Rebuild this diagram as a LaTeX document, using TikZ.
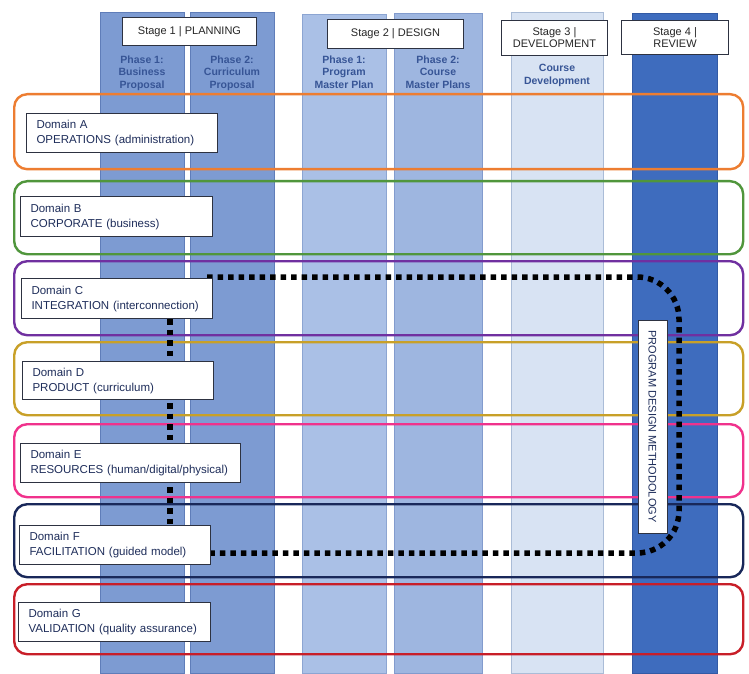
\documentclass[tikz,border=0pt]{standalone}
\usepackage{fontspec}
\setmainfont{Liberation Sans}

% stage column fills and edges
\definecolor{sOne}{RGB}{125,155,210}
\definecolor{sOneEdge}{RGB}{95,125,185}
\definecolor{sTwoA}{RGB}{170,192,230}
\definecolor{sTwoAEdge}{RGB}{140,165,210}
\definecolor{sTwoB}{RGB}{158,182,224}
\definecolor{sTwoBEdge}{RGB}{130,155,205}
\definecolor{sThree}{RGB}{216,227,243}
\definecolor{sThreeEdge}{RGB}{170,188,215}
\definecolor{sFour}{RGB}{62,108,190}
\definecolor{sFourEdge}{RGB}{50,90,165}
% domain band outlines
\definecolor{dA}{RGB}{237,125,49}
\definecolor{dB}{RGB}{80,150,60}
\definecolor{dC}{RGB}{112,48,160}
\definecolor{dD}{RGB}{200,160,40}
\definecolor{dE}{RGB}{240,50,140}
\definecolor{dF}{RGB}{25,40,90}
\definecolor{dG}{RGB}{200,30,40}
% text and box edges
\definecolor{txtNavy}{RGB}{30,45,90}
\definecolor{txtPhase}{RGB}{55,85,150}
\definecolor{boxEdge}{RGB}{45,50,65}

\pgfdeclarelayer{grid}
\pgfdeclarelayer{loop}
\pgfsetlayers{grid,loop,main}

\begin{document}
\begin{tikzpicture}[x=1pt,y=-1pt,
  stagecol/.style={rectangle, anchor=north west, inner sep=0pt,
    minimum height=661pt, line width=0.8pt},
  band/.style={rectangle, anchor=north west, inner sep=0pt, rounded corners=13pt,
    minimum width=729pt, line width=2.4pt},
  stagehead/.style={rectangle, draw=boxEdge, fill=white, line width=1pt,
    anchor=north west, inner sep=0pt, align=center,
    font=\fontsize{11}{12}\selectfont, text=black!85},
  phasetext/.style={align=center, inner sep=0pt,
    font=\bfseries\fontsize{10.5}{12.5}\selectfont, text=txtPhase},
  domainbox/.style={rectangle, draw=boxEdge, fill=white, line width=1.1pt,
    anchor=north west, align=left, inner xsep=10pt, inner ysep=0pt,
    font=\fontsize{11.5}{15}\selectfont, text=txtNavy},
  dotline/.style={line width=5.5pt, dash pattern=on 5.5pt off 5pt, black}]

\begin{pgfonlayer}{grid}
\fill[white] (0,0) rectangle (749,673);
% stage columns
\node[stagecol, fill=sOne, draw=sOneEdge, minimum width=84pt] (colA) at (100,12) {};
\node[stagecol, fill=sOne, draw=sOneEdge, minimum width=84pt] (colB) at (190,12) {};
\node[stagecol, fill=sTwoA, draw=sTwoAEdge, minimum width=84pt, minimum height=659pt] (colC) at (302,14) {};
\node[stagecol, fill=sTwoB, draw=sTwoBEdge, minimum width=88pt, minimum height=660pt] (colD) at (394,13) {};
\node[stagecol, fill=sThree, draw=sThreeEdge, minimum width=92pt] (colE) at (511,12) {};
\node[stagecol, fill=sFour, draw=sFourEdge, minimum width=85pt, minimum height=660pt] (colF) at (632,13) {};

% stage headings
\node[stagehead, minimum width=134pt, minimum height=28pt] (stOne) at (122,17) {Stage 1 | PLANNING};
\node[stagehead, minimum width=136pt, minimum height=29pt] (stTwo) at (327,19) {Stage 2 | DESIGN};
\node[stagehead, minimum width=106pt, minimum height=35pt] (stThree) at (501,20) {Stage 3 |\\DEVELOPMENT};
\node[stagehead, minimum width=107pt, minimum height=34pt] (stFour) at (621,20) {Stage 4 |\\REVIEW};

% phase captions
\node[phasetext] (phA) at (142,73) {Phase 1:\\Business\\Proposal};
\node[phasetext] (phB) at (232,73) {Phase 2:\\Curriculum\\Proposal};
\node[phasetext] (phC) at (344,72) {Phase 1:\\Program\\Master Plan};
\node[phasetext] (phD) at (438,72) {Phase 2:\\Course\\Master Plans};
\node[phasetext] (phE) at (557,75.5) {Course\\Development};

% domain bands
\node[band, draw=dA, minimum height=75pt] (bandA) at (13,93) {};
\node[band, draw=dB, minimum height=73pt] (bandB) at (13,180) {};
\node[band, draw=dC, minimum height=74pt] (bandC) at (13,260) {};
\node[band, draw=dD, minimum height=73pt] (bandD) at (13,341) {};
\node[band, draw=dE, minimum height=73pt] (bandE) at (13,423) {};
\node[band, draw=dF, minimum height=73pt] (bandF) at (13,503) {};
\node[band, draw=dG, minimum height=70pt] (bandG) at (13,583) {};
\end{pgfonlayer}

% domain labels
\node[domainbox, text width=171pt, minimum height=39pt] (domA) at (26,113) {Domain A\\OPERATIONS (administration)};
\node[domainbox, text width=172pt, minimum height=40pt] (domB) at (20,196) {Domain B\\CORPORATE (business)};
\node[domainbox, text width=171pt, minimum height=40pt] (domC) at (21,278) {Domain C\\INTEGRATION (interconnection)};
\node[domainbox, text width=171pt, minimum height=38pt] (domD) at (22,361) {Domain D\\PRODUCT (curriculum)};
\node[domainbox, text width=200pt, minimum height=39pt] (domE) at (20,443) {Domain E\\RESOURCES (human/digital/physical)};
\node[domainbox, text width=171pt, minimum height=39pt] (domF) at (19,525) {Domain F\\FACILITATION (guided model)};
\node[domainbox, text width=172pt, minimum height=39pt] (domG) at (18,602) {Domain G\\VALIDATION (quality assurance)};

% methodology caption
\node[rectangle, draw=boxEdge, fill=white, line width=1pt, rotate=-90,
  minimum width=213pt, minimum height=29pt, inner sep=0pt,
  font=\fontsize{11}{12}\selectfont, text=txtNavy] (method) at (652.5,426.5) {PROGRAM DESIGN METHODOLOGY};

% methodology loop, passing behind the domain labels
\coordinate (spine) at (170,0);
\coordinate (loopTop) at (679,277);
\coordinate (loopBottom) at (679,553);
\begin{pgfonlayer}{loop}
\draw[dotline] (domC.south -| spine) -- (domF.north -| spine);
\draw[dotline, rounded corners=42pt] ([xshift=-6pt]domC.north east |- loopTop) -- (loopTop) -- (loopBottom) -- (domF.east |- loopBottom);
\end{pgfonlayer}
\end{tikzpicture}
\end{document}
